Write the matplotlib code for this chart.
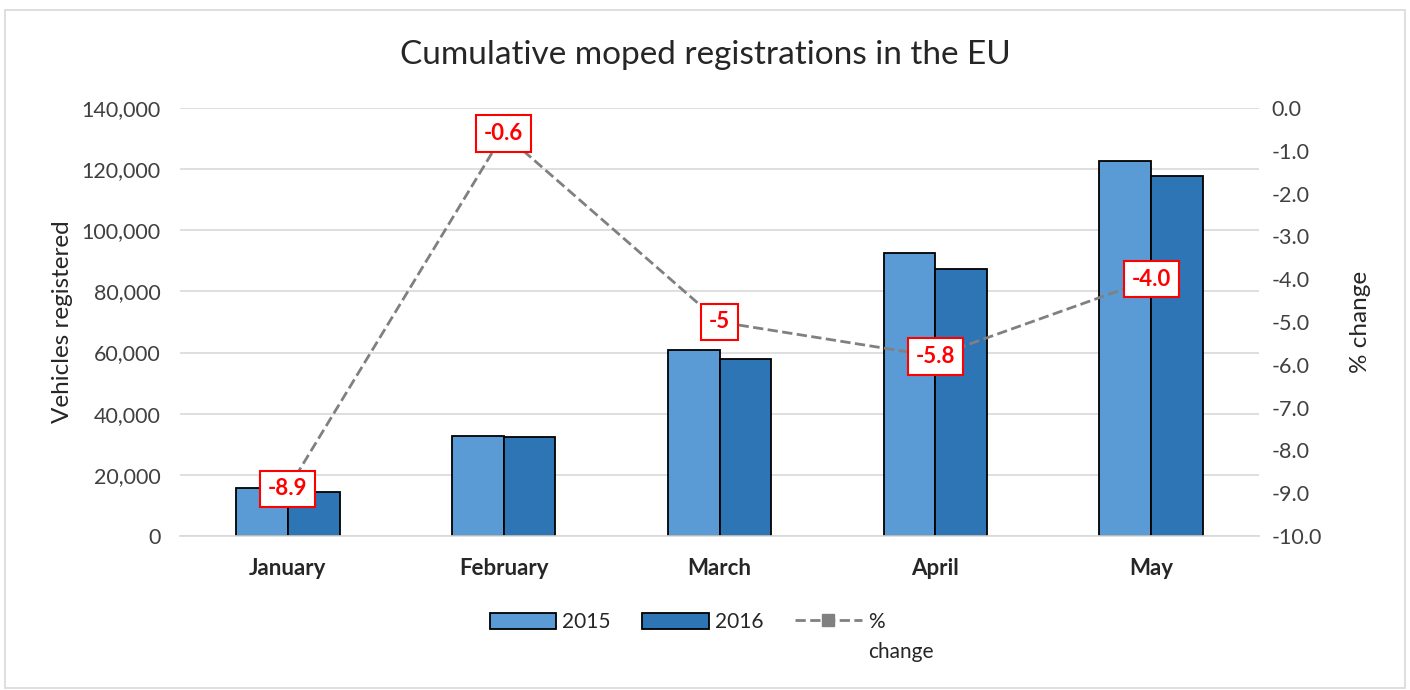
import numpy as np
import matplotlib.pyplot as plt
from matplotlib.patches import Rectangle

plt.rcParams['font.family'] = ['Lato', 'DejaVu Sans']

months = ['January', 'February', 'March', 'April', 'May']
reg_2015 = [15600, 32600, 61000, 92700, 122700]
reg_2016 = [14300, 32400, 58000, 87400, 117800]
pct_change = [-8.9, -0.6, -5.0, -5.8, -4.0]
pct_labels = ['-8.9', '-0.6', '-5', '-5.8', '-4.0']

fig = plt.figure(figsize=(14.1, 6.9), dpi=100)
ax = fig.add_axes([180 / 1410, 1 - 536 / 690, 1079 / 1410, 428 / 690])

# outer chart border
fig.patches.append(Rectangle((5 / 1410, 2 / 690), 1400 / 1410, 678 / 690,
                             transform=fig.transFigure, fill=False,
                             edgecolor='#d9d9d9', linewidth=1.2))

x = np.arange(len(months))
w = 0.24
ax.bar(x - w / 2, reg_2015, w, color='#5b9bd5', edgecolor='black', linewidth=1.3, label='2015', zorder=2)
ax.bar(x + w / 2, reg_2016, w, color='#2e75b6', edgecolor='black', linewidth=1.3, label='2016', zorder=2)

ax.set_xlim(-0.5, 4.5)
ax.set_ylim(0, 140000)
ax.set_yticks(np.arange(0, 140001, 20000))
ax.yaxis.set_major_formatter(plt.FuncFormatter(lambda v, p: f'{int(v):,}'))
ax.grid(axis='y', color='#d9d9d9', linewidth=1.2, zorder=0)
ax.set_axisbelow(True)
for s in ['top', 'right', 'left']:
    ax.spines[s].set_visible(False)
ax.spines['bottom'].set_color('#d9d9d9')
ax.spines['bottom'].set_linewidth(1.2)
ax.tick_params(axis='y', length=0, labelsize=15.5, colors='#404040', pad=14)
ax.tick_params(axis='x', length=0, labelsize=16, colors='#262626', pad=16)
ax.set_xticks(x)
ax.set_xticklabels(months, fontweight='bold')
ax.set_ylabel('Vehicles registered', fontsize=17.5, color='#262626', labelpad=6)

ax2 = ax.twinx()
ax2.set_ylim(-10, 0)
ax2.set_yticks(np.arange(-10, 0.01, 1))
ax2.yaxis.set_major_formatter(plt.FuncFormatter(lambda v, p: f'{v:.1f}'))
for s in ax2.spines.values():
    s.set_visible(False)
ax2.tick_params(axis='y', length=0, labelsize=15.5, colors='#404040', pad=9)
ax2.set_ylabel('% change', fontsize=17.5, color='#262626', labelpad=20)
ax2.plot(x, pct_change, color='#808080', linestyle='--', linewidth=2,
         marker='s', markersize=9, label='%', zorder=3)

for xi, yi, lab in zip(x, pct_change, pct_labels):
    ax2.text(xi, yi, lab, ha='center', va='center', fontsize=16, fontweight='bold',
             color='#ff0000', zorder=5,
             bbox=dict(boxstyle='square,pad=0.35', facecolor='white', edgecolor='#ff0000', linewidth=1.5))

fig.text(0.5, 1 - 55 / 690, 'Cumulative moped registrations in the EU', ha='center', va='center',
         fontsize=24, color='#262626')

h1, l1 = ax.get_legend_handles_labels()
h2, l2 = ax2.get_legend_handles_labels()
leg = fig.legend(h1 + h2, l1 + l2, loc='center', bbox_to_anchor=(0.5 - 18 / 1410, 1 - 622 / 690),
                 ncol=3, frameon=False, fontsize=15, handlelength=3.2, handleheight=0.8,
                 columnspacing=1.5, handletextpad=0.3, labelcolor='#262626')

# second line of the "% change" legend entry, placed under the "%"
fig.canvas.draw()
bb = leg.get_texts()[2].get_window_extent().transformed(fig.transFigure.inverted())
fig.text(bb.x0, bb.y0 - 0.014, 'change', ha='left', va='top', fontsize=15, color='#262626')

fig.savefig('out.png', dpi=100)
